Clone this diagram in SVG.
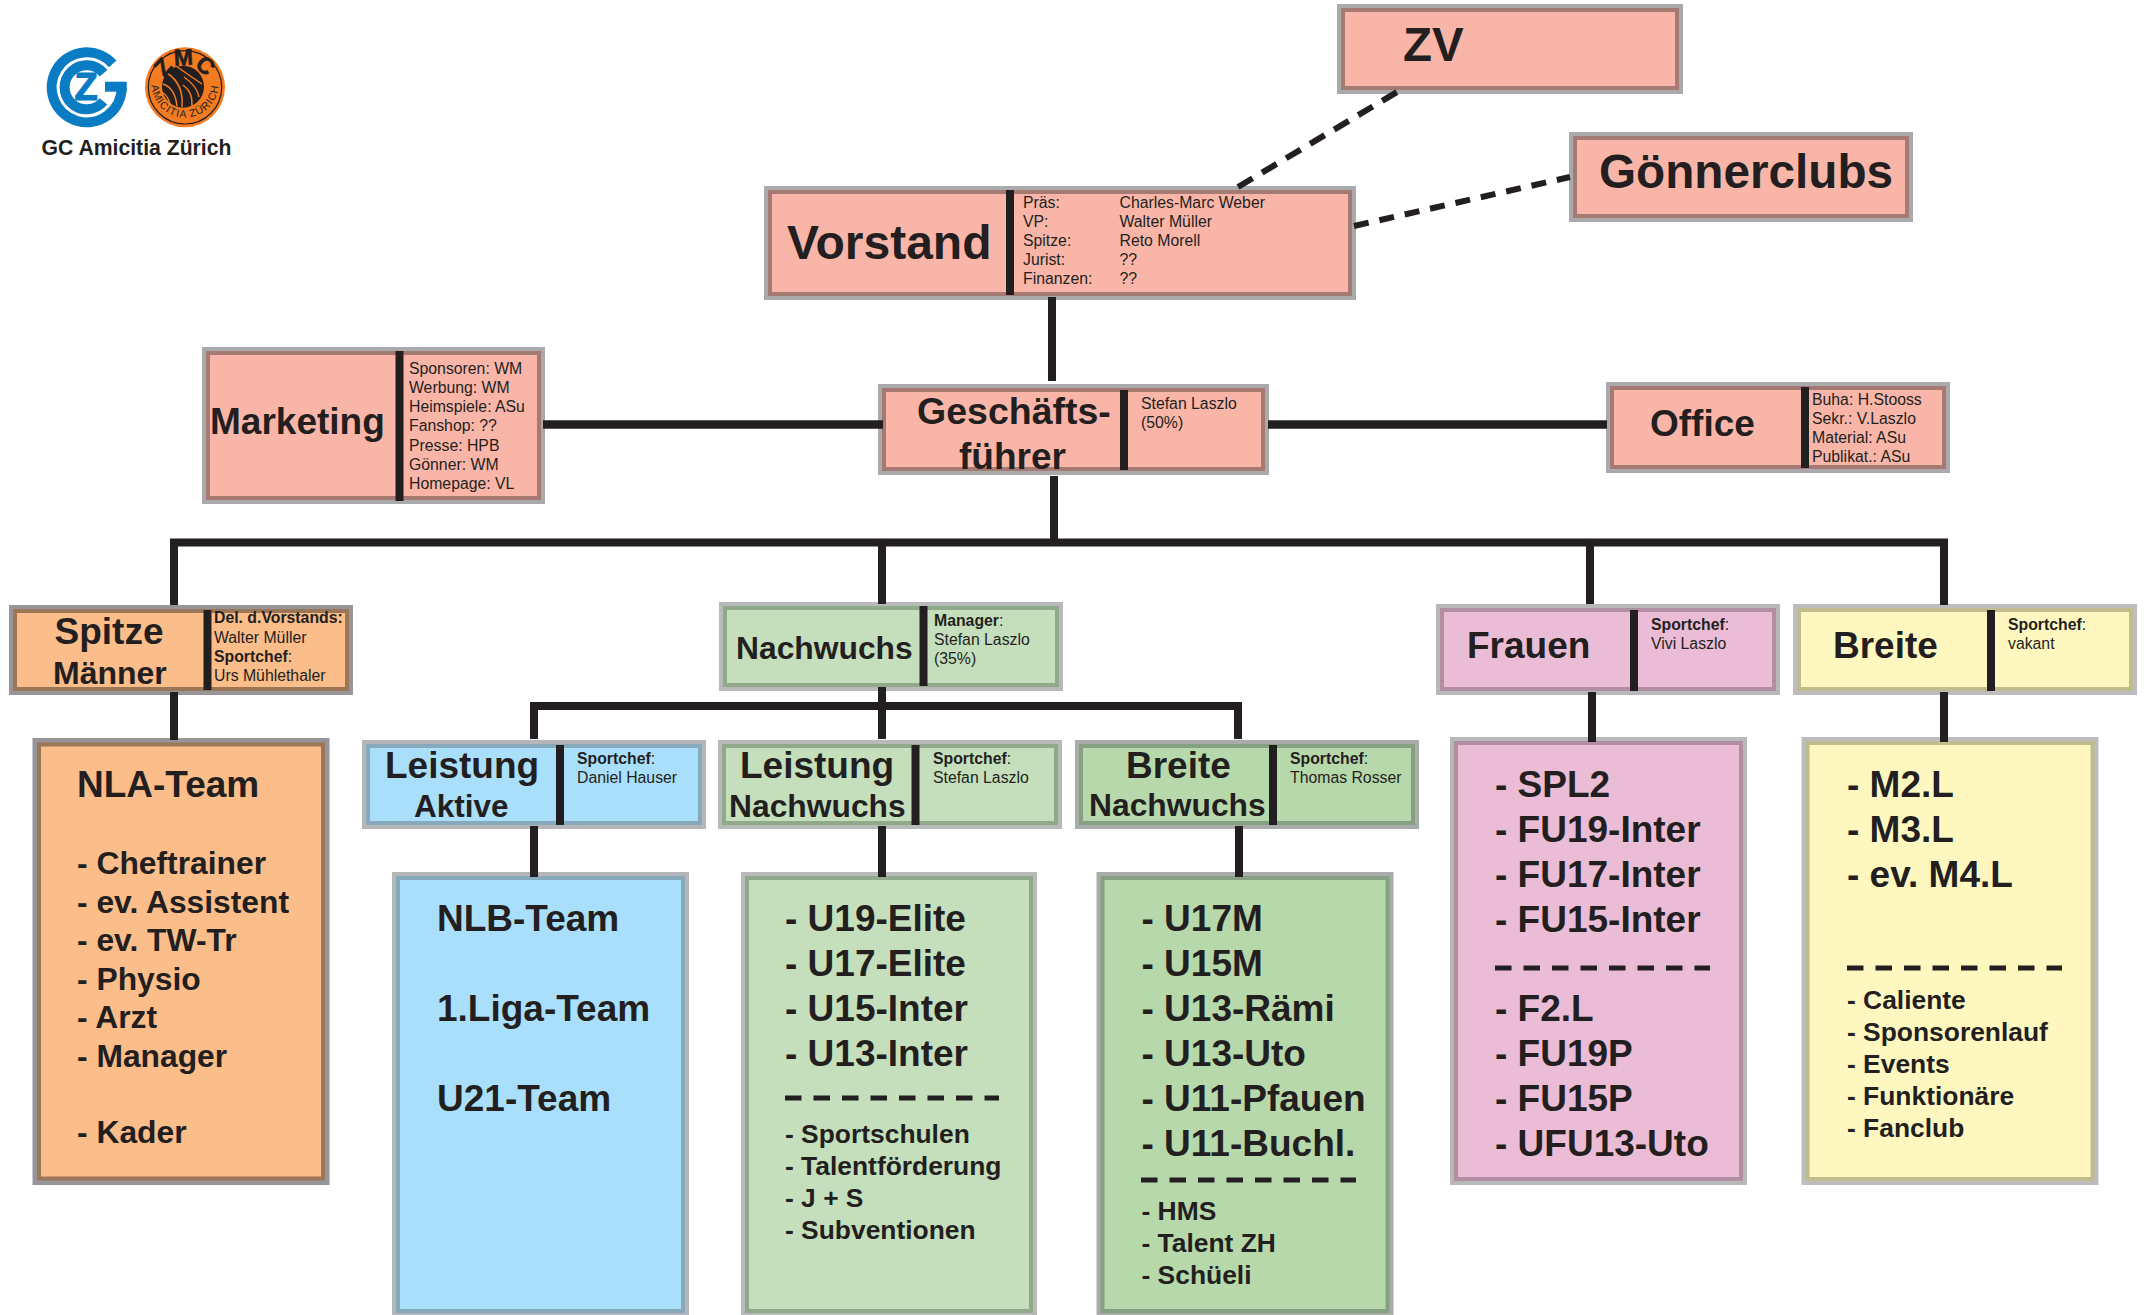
<svg xmlns="http://www.w3.org/2000/svg" width="2147" height="1315" viewBox="0 0 2147 1315">
<style>
text{font-family:"Liberation Sans",Arial,sans-serif;fill:#231f20}
.sm{font-size:15.8px}
.bd{font-weight:700}
.m{font-size:37px;font-weight:700}
.n{font-size:31.5px;font-weight:700}
.l{font-size:47.5px;font-weight:700}
.t{font-size:37px;font-weight:700}
.e{font-size:37px;font-weight:700}
.p{font-size:31.8px;font-weight:700}
.f{font-size:26.4px;font-weight:700}
.d{fill:#231f20}
.i{stroke-width:4}
.salmon .o{fill:#aaa9ac}.salmon .i{fill:#f9b6a8;stroke:#a47a72}
.orange .o{fill:#97959a}.orange .i{fill:#fbbd89;stroke:#9c7757}
.blue .o{fill:#b4b6ba}.blue .i{fill:#aadffb;stroke:#86a9bc}
.lgreen .o{fill:#b7bab9}.lgreen .i{fill:#c5dfbc;stroke:#8fa98a}
.dgreen .o{fill:#a9acab}.dgreen .i{fill:#b7d8aa;stroke:#86a182}
.pink .o{fill:#b8b8ba}.pink .i{fill:#ebbcd6;stroke:#b28ea3}
.yellow .o{fill:#bdbdbf}.yellow .i{fill:#fef8c0;stroke:#c0bc8e}
.c{fill:none;stroke:#231f20;stroke-width:8}
.dash1{stroke-width:6;stroke-dasharray:17 11}
.dash2{stroke-width:6;stroke-dasharray:15 11}
.sep{fill:none;stroke:#231f20;stroke-width:5;stroke-dasharray:16.5 12}
</style>
<defs>
<path id="arcTop" d="M163 87.300 A22 22 0 0 1 207 87.300"/>
<path id="arcBottom" d="M151.500 84 A33.500 33.500 0 0 0 218.500 84"/>
</defs>
<rect width="2147" height="1315" fill="#fff"/>

<g id="logo">
<g fill="none" stroke="#0a7cc4">
<path d="M112.700 63.900 A35 35 0 1 0 121.700 87.300" stroke-width="10"/>
<path d="M105 86.700 H126.700" stroke-width="10"/>
<path d="M103.500 73.200 A22 22 0 1 0 103.500 101.400" stroke-width="10"/>
</g>
<text x="74.500" y="100" font-size="38" font-weight="700" stroke="#0a7cc4" stroke-width="1.200" style="fill:#0a7cc4">Z</text>
<circle cx="185" cy="87.300" r="40" fill="#f47b20"/>
<circle cx="185" cy="87.300" r="36.700" fill="none" stroke="#231f20" stroke-width="1.200"/>
<circle cx="183" cy="86.700" r="21" fill="#231f20"/>
<g fill="none" stroke="#f47b20" stroke-width="1.500">
<path d="M167 73 Q184 84 182 107"/>
<path d="M163 84 Q175 88 177 106"/>
<path d="M162 92 Q168 96 170 104"/>
<path d="M176 66 Q190 76 202 84"/>
<path d="M184 77 Q197 86 199 97"/>
<path d="M183 85 Q193 92 192 106"/>
</g>
<text font-size="23" font-weight="700" stroke="#231f20" stroke-width=".6"><textPath href="#arcTop" startOffset="50%" text-anchor="middle">ZMC</textPath></text>
<text font-size="10.500" letter-spacing="1"><textPath href="#arcBottom" startOffset="50%" text-anchor="middle">AMICITIA ZÜRICH</textPath></text>
<text x="41.500" y="155" font-size="21.200" font-weight="700">GC Amicitia Zürich</text>
</g>

<g id="zv" class="salmon">
<rect class="o" x="1337" y="4" width="346" height="90"/>
<rect class="i" x="1343" y="10" width="334" height="78"/>
<text class="l" x="1403" y="61">ZV</text>
</g>

<g id="goennerclubs" class="salmon">
<rect class="o" x="1569" y="132" width="344" height="90"/>
<rect class="i" x="1575" y="138" width="332" height="78"/>
<text class="l" x="1599" y="188" style="font-size:47.7px">Gönnerclubs</text>
</g>

<g id="vorstand" class="salmon">
<rect class="o" x="764" y="186" width="592" height="114"/>
<rect class="i" x="770" y="192" width="580" height="102"/>
<rect class="d" x="1006" y="190" width="8" height="105"/>
<text class="l" x="787" y="259" style="font-size:48px">Vorstand</text>
<g class="sm">
<text x="1023" y="208">Präs:</text><text x="1119.500" y="208">Charles-Marc Weber</text>
<text x="1023" y="227">VP:</text><text x="1119.500" y="227">Walter Müller</text>
<text x="1023" y="246">Spitze:</text><text x="1119.500" y="246">Reto Morell</text>
<text x="1023" y="265">Jurist:</text><text x="1119.500" y="265">??</text>
<text x="1023" y="284">Finanzen:</text><text x="1119.500" y="284">??</text>
</g>
</g>

<g id="marketing" class="salmon">
<rect class="o" x="202" y="347" width="343" height="157"/>
<rect class="i" x="208" y="353" width="331" height="145"/>
<rect class="d" x="395.500" y="351" width="8" height="150"/>
<text class="m" x="210" y="434">Marketing</text>
<g class="sm">
<text x="409" y="374">Sponsoren: WM</text>
<text x="409" y="393">Werbung: WM</text>
<text x="409" y="412">Heimspiele: ASu</text>
<text x="409" y="431">Fanshop: ??</text>
<text x="409" y="451">Presse: HPB</text>
<text x="409" y="470">Gönner: WM</text>
<text x="409" y="489">Homepage: VL</text>
</g>
</g>

<g id="geschaeftsfuehrer" class="salmon">
<rect class="o" x="878" y="384" width="391" height="91"/>
<rect class="i" x="884" y="390" width="379" height="79"/>
<rect class="d" x="1120" y="390" width="8" height="80"/>
<text class="m" x="917" y="424" style="font-size:37.500px">Geschäfts-</text>
<text class="m" x="959" y="469">führer</text>
<g class="sm">
<text x="1141" y="409">Stefan Laszlo</text>
<text x="1141" y="428">(50%)</text>
</g>
</g>

<g id="office" class="salmon">
<rect class="o" x="1606" y="382" width="344" height="91"/>
<rect class="i" x="1612" y="388" width="332" height="79"/>
<rect class="d" x="1801" y="387" width="8" height="81"/>
<text class="m" x="1650" y="436">Office</text>
<g class="sm">
<text x="1812" y="405">Buha: H.Stooss</text>
<text x="1812" y="424">Sekr.: V.Laszlo</text>
<text x="1812" y="443">Material: ASu</text>
<text x="1812" y="462">Publikat.: ASu</text>
</g>
</g>

<g id="spitze" class="orange">
<rect class="o" x="9" y="605" width="344" height="90"/>
<rect class="i" x="15" y="611" width="332" height="78"/>
<rect class="d" x="203.500" y="610" width="8" height="80"/>
<text class="m" x="54.500" y="644">Spitze</text>
<text class="n" x="53" y="684" style="font-size:32px">Männer</text>
<g class="sm">
<text class="bd" x="214" y="623">Del. d.Vorstands:</text>
<text x="214" y="643">Walter Müller</text>
<text x="214" y="662"><tspan class="bd">Sportchef</tspan>:</text>
<text x="214" y="681">Urs Mühlethaler</text>
</g>
</g>

<g id="nla-team" class="orange">
<rect class="o" x="32.500" y="738" width="297" height="447"/>
<rect class="i" x="39" y="744.500" width="284" height="434"/>
<text class="t" x="77" y="797">NLA-Team</text>
<g class="p">
<text x="77" y="874">- Cheftrainer</text>
<text x="77" y="913">- ev. Assistent</text>
<text x="77" y="951">- ev. TW-Tr</text>
<text x="77" y="989.500">- Physio</text>
<text x="77" y="1028">- Arzt</text>
<text x="77" y="1066.500">- Manager</text>
<text x="77" y="1142.500">- Kader</text>
</g>
</g>

<g id="leistung-aktive" class="blue">
<rect class="o" x="362" y="740" width="344" height="89"/>
<rect class="i" x="368" y="746" width="332" height="77"/>
<rect class="d" x="556" y="745" width="8" height="80"/>
<text class="m" x="385" y="778">Leistung</text>
<text class="n" x="414" y="817">Aktive</text>
<g class="sm">
<text x="577" y="764"><tspan class="bd">Sportchef</tspan>:</text>
<text x="577" y="783">Daniel Hauser</text>
</g>
</g>

<g id="nlb-team" class="blue">
<rect class="o" x="392" y="872" width="297" height="443"/>
<rect class="i" x="398" y="878" width="285" height="433"/>
<g class="t">
<text x="437" y="931">NLB-Team</text>
<text x="437" y="1021">1.Liga-Team</text>
<text x="437" y="1111">U21-Team</text>
</g>
</g>

<g id="nachwuchs" class="lgreen">
<rect class="o" x="719" y="602" width="344" height="89"/>
<rect class="i" x="725" y="608" width="332" height="77"/>
<rect class="d" x="919.500" y="606" width="8" height="80"/>
<text class="n" x="736" y="659" style="font-size:31.8px">Nachwuchs</text>
<g class="sm">
<text x="934" y="626"><tspan class="bd">Manager</tspan>:</text>
<text x="934" y="645">Stefan Laszlo</text>
<text x="934" y="664">(35%)</text>
</g>
</g>

<g id="leistung-nachwuchs" class="lgreen">
<rect class="o" x="718" y="740" width="344" height="89"/>
<rect class="i" x="724" y="746" width="332" height="77"/>
<rect class="d" x="911.500" y="745" width="8" height="80"/>
<text class="m" x="740" y="778">Leistung</text>
<text class="n" x="729" y="817" style="font-size:31.8px">Nachwuchs</text>
<g class="sm">
<text x="933" y="764"><tspan class="bd">Sportchef</tspan>:</text>
<text x="933" y="783">Stefan Laszlo</text>
</g>
</g>

<g id="leistung-nachwuchs-teams" class="lgreen">
<rect class="o" x="741" y="872" width="296" height="443"/>
<rect class="i" x="747" y="878" width="284" height="433"/>
<g class="e">
<text x="785" y="931">- U19-Elite</text>
<text x="785" y="976">- U17-Elite</text>
<text x="785" y="1021">- U15-Inter</text>
<text x="785" y="1066">- U13-Inter</text>
</g>
<path class="sep" d="M785 1098 H999"/>
<g class="f">
<text x="785" y="1143">- Sportschulen</text>
<text x="785" y="1175">- Talentförderung</text>
<text x="785" y="1207">- J + S</text>
<text x="785" y="1239">- Subventionen</text>
</g>
</g>

<g id="breite-nachwuchs" class="dgreen">
<rect class="o" x="1075" y="740" width="344" height="89"/>
<rect class="i" x="1081" y="746" width="332" height="77"/>
<rect class="d" x="1269" y="745" width="8" height="80"/>
<text class="m" x="1126" y="778">Breite</text>
<text class="n" x="1089" y="816" style="font-size:31.8px">Nachwuchs</text>
<g class="sm">
<text x="1290" y="764"><tspan class="bd">Sportchef</tspan>:</text>
<text x="1290" y="783">Thomas Rosser</text>
</g>
</g>

<g id="breite-nachwuchs-teams" class="dgreen">
<rect class="o" x="1096.500" y="872" width="297" height="443"/>
<rect class="i" x="1102.500" y="878" width="285" height="433"/>
<g class="e">
<text x="1141.500" y="931">- U17M</text>
<text x="1141.500" y="976">- U15M</text>
<text x="1141.500" y="1021">- U13-Rämi</text>
<text x="1141.500" y="1066">- U13-Uto</text>
<text x="1141.500" y="1111">- U11-Pfauen</text>
<text x="1141.500" y="1156">- U11-Buchl.</text>
</g>
<path class="sep" d="M1141 1180 H1356"/>
<g class="f">
<text x="1141.500" y="1220">- HMS</text>
<text x="1141.500" y="1252">- Talent ZH</text>
<text x="1141.500" y="1284">- Schüeli</text>
</g>
</g>

<g id="frauen" class="pink">
<rect class="o" x="1436" y="604" width="344" height="91"/>
<rect class="i" x="1442" y="610" width="332" height="79"/>
<rect class="d" x="1630" y="610" width="8" height="81"/>
<text class="m" x="1467" y="658">Frauen</text>
<g class="sm">
<text x="1651" y="630"><tspan class="bd">Sportchef</tspan>:</text>
<text x="1651" y="649">Vivi Laszlo</text>
</g>
</g>

<g id="frauen-teams" class="pink">
<rect class="o" x="1450" y="737" width="297" height="448"/>
<rect class="i" x="1456" y="743" width="285" height="436"/>
<g class="e">
<text x="1495" y="797">- SPL2</text>
<text x="1495" y="842">- FU19-Inter</text>
<text x="1495" y="887">- FU17-Inter</text>
<text x="1495" y="932">- FU15-Inter</text>
<text x="1495" y="1021">- F2.L</text>
<text x="1495" y="1066">- FU19P</text>
<text x="1495" y="1111">- FU15P</text>
<text x="1495" y="1156">- UFU13-Uto</text>
</g>
<path class="sep" d="M1495 968 H1710"/>
</g>

<g id="breite" class="yellow">
<rect class="o" x="1793" y="604" width="344" height="91"/>
<rect class="i" x="1799" y="610" width="332" height="79"/>
<rect class="d" x="1987" y="610" width="8" height="81"/>
<text class="m" x="1833" y="658">Breite</text>
<g class="sm">
<text x="2008" y="630"><tspan class="bd">Sportchef</tspan>:</text>
<text x="2008" y="649">vakant</text>
</g>
</g>

<g id="breite-teams" class="yellow">
<rect class="o" x="1801.500" y="737" width="297" height="448"/>
<rect class="i" x="1807.500" y="743" width="285" height="436"/>
<g class="e">
<text x="1847" y="797">- M2.L</text>
<text x="1847" y="842">- M3.L</text>
<text x="1847" y="887">- ev. M4.L</text>
</g>
<path class="sep" d="M1847 968 H2062"/>
<g class="f">
<text x="1847" y="1009">- Caliente</text>
<text x="1847" y="1041">- Sponsorenlauf</text>
<text x="1847" y="1073">- Events</text>
<text x="1847" y="1105">- Funktionäre</text>
<text x="1847" y="1137">- Fanclub</text>
</g>
</g>

<g id="connectors">
<path class="c dash1" d="M1238 187 L1397 92"/>
<path class="c dash2" d="M1354 226 L1570 177"/>
<path class="c" d="M1052 297 V381"/>
<path class="c" d="M1054 476 V543"/>
<path class="c" style="stroke-width:8.500" d="M543 424.500 H883"/>
<path class="c" style="stroke-width:8.500" d="M1268 424.500 H1607"/>
<path class="c" d="M174 605 V542.500 H1944 V605"/>
<path class="c" d="M882 542.500 V604"/>
<path class="c" d="M1590 542.500 V604"/>
<path class="c" d="M174 692 V740"/>
<path class="c" d="M882 687 V739"/>
<path class="c" d="M534 739 V706 H1238 V739"/>
<path class="c" d="M534 826 V877"/>
<path class="c" d="M882 826 V877"/>
<path class="c" d="M1239 826 V877"/>
<path class="c" d="M1592 692 V742"/>
<path class="c" d="M1944 692 V742"/>
</g>
</svg>
